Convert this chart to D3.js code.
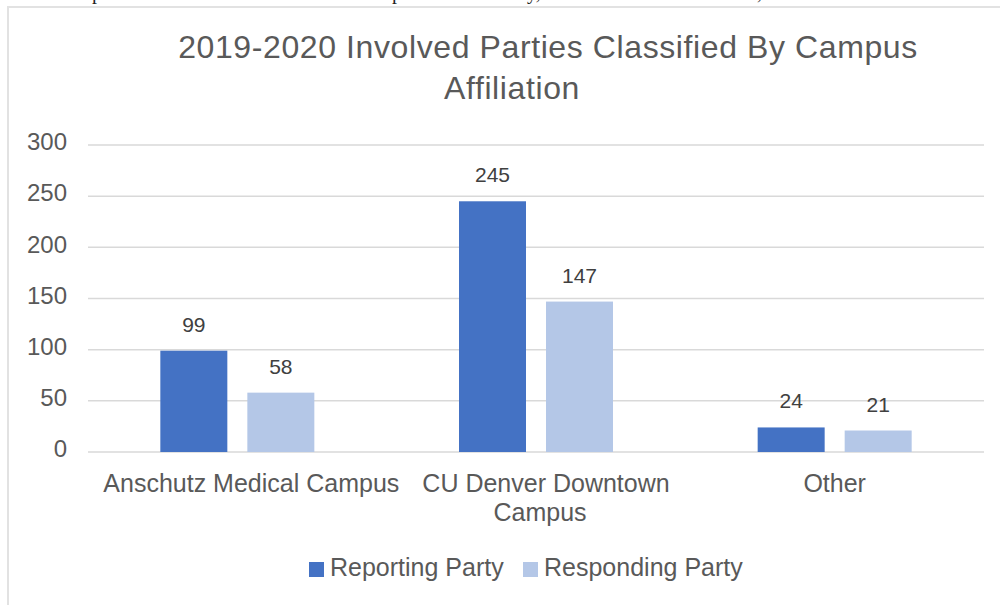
<!DOCTYPE html>
<html>
<head>
<meta charset="utf-8">
<script src="https://cdn.jsdelivr.net/npm/d3@7"></script>
<style>
  html, body { margin: 0; padding: 0; background: #fff; }
  svg { display: block; font-family: 'Liberation Sans', Arial, sans-serif; }
</style>
</head>
<body>
<svg id="chart" width="1000" height="605"></svg>
<script>
const categories = ['Anschutz Medical Campus', 'CU Denver Downtown Campus', 'Other'];
const seriesNames = ['Reporting Party', 'Responding Party'];
const reportingValues = [99, 245, 24];
const respondingValues = [58, 147, 21];
const yTicks = [0, 50, 100, 150, 200, 250, 300];
const titleLines = ['2019-2020 Involved Parties Classified By Campus', 'Affiliation'];

const colors = { 'Reporting Party': '#4472c4', 'Responding Party': '#b4c7e7' };
const textColor = '#595959';

const svg = d3.select('#chart');

// leftover page text cut at the top of the screenshot
const clipped = [['p', 92], ['p', 392], ['y,', 527], [',', 757]];
svg.append('g')
  .selectAll('text')
  .data(clipped)
  .enter()
  .append('text')
  .attr('x', (d) => d[1])
  .attr('y', -1)
  .attr('font-family', 'Liberation Serif, serif')
  .attr('font-size', 20)
  .attr('fill', '#222')
  .text((d) => d[0]);

// chart frame
svg.append('rect')
  .attr('x', 8).attr('y', 7)
  .attr('width', 1100).attr('height', 700)
  .attr('fill', 'none')
  .attr('stroke', '#e2e2e2')
  .attr('stroke-width', 2);

const plot = { left: 88, right: 984, top: 145, bottom: 452 };

const x0 = d3.scaleBand().domain(categories).range([plot.left, plot.right]);
const x1 = d3.scaleBand().domain(seriesNames).range([-77, 77]).paddingInner(0.23);
const y = d3.scaleLinear().domain([0, 300]).range([plot.bottom, plot.top]);

// gridlines
svg.append('g')
  .selectAll('line')
  .data(yTicks)
  .enter()
  .append('line')
  .attr('x1', plot.left)
  .attr('x2', plot.right)
  .attr('y1', (d) => y(d))
  .attr('y2', (d) => y(d))
  .attr('stroke', '#d9d9d9')
  .attr('stroke-width', 1.5);

// y axis labels
const yAxis = d3.axisLeft(y).tickValues(yTicks).tickSize(0).tickPadding(0);
const yG = svg.append('g')
  .attr('transform', `translate(67,0)`)
  .call(yAxis);
yG.select('.domain').remove();
yG.selectAll('text')
  .attr('font-size', 24)
  .attr('font-family', 'Liberation Sans, Arial, sans-serif')
  .attr('fill', textColor)
  .attr('dy', '0.2em');

// bars
const rows = categories.map((c, i) => ({
  category: c,
  values: [
    { series: seriesNames[0], value: reportingValues[i] },
    { series: seriesNames[1], value: respondingValues[i] },
  ],
}));

const groups = svg.append('g')
  .selectAll('g')
  .data(rows)
  .enter()
  .append('g')
  .attr('transform', (d) => `translate(${x0(d.category) + x0.bandwidth() / 2},0)`);

groups.selectAll('rect')
  .data((d) => d.values)
  .enter()
  .append('rect')
  .attr('x', (d) => x1(d.series))
  .attr('width', x1.bandwidth())
  .attr('y', (d) => y(d.value))
  .attr('height', (d) => y(0) - y(d.value))
  .attr('fill', (d) => colors[d.series]);

groups.selectAll('text.value')
  .data((d) => d.values)
  .enter()
  .append('text')
  .attr('class', 'value')
  .attr('x', (d) => x1(d.series) + x1.bandwidth() / 2)
  .attr('y', (d) => y(d.value) - 19)
  .attr('text-anchor', 'middle')
  .attr('font-size', 21)
  .attr('fill', '#404040')
  .text((d) => d.value);

// category labels, wrapped like the original
const wrapLabel = (label) => (label === 'CU Denver Downtown Campus' ? ['CU Denver Downtown', 'Campus'] : [label]);
const catG = svg.append('g')
  .selectAll('text')
  .data(categories)
  .enter()
  .append('text')
  .attr('x', (d, i) => x0(d) + x0.bandwidth() / 2 + (i === 0 ? 14 : i === 1 ? 10 : 0))
  .attr('y', 492)
  .attr('text-anchor', 'middle')
  .attr('font-size', 25)
  .attr('fill', textColor);
catG.selectAll('tspan')
  .data((d) => wrapLabel(d))
  .enter()
  .append('tspan')
  .attr('x', function () { return this.parentNode.getAttribute('x'); })
  .attr('dx', (d, i) => (i === 1 ? -6 : 0))
  .attr('dy', (d, i) => (i === 0 ? 0 : 29))
  .text((d) => d);

// title
svg.append('g')
  .selectAll('text')
  .data(titleLines)
  .enter()
  .append('text')
  .attr('x', (d, i) => (i === 0 ? 548 : 512))
  .attr('y', (d, i) => 58 + i * 41)
  .attr('text-anchor', 'middle')
  .attr('font-size', 32)
  .attr('letter-spacing', 0.6)
  .attr('fill', textColor)
  .text((d) => d);

// legend
const legendPos = [309, 523];
const legend = svg.append('g')
  .selectAll('g')
  .data(seriesNames)
  .enter()
  .append('g')
  .attr('transform', (d, i) => `translate(${legendPos[i]},562)`);
legend.append('rect')
  .attr('width', 15)
  .attr('height', 15)
  .attr('fill', (d) => colors[d]);
legend.append('text')
  .attr('x', 21)
  .attr('y', 14)
  .attr('font-size', 25)
  .attr('fill', textColor)
  .text((d) => d);
</script>
</body>
</html>
